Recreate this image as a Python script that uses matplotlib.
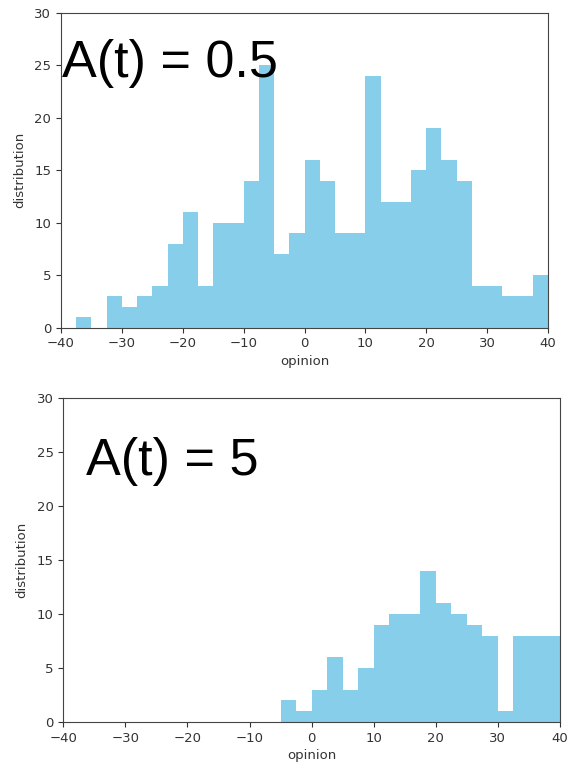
import matplotlib
matplotlib.use("Agg")
import matplotlib.pyplot as plt
import numpy as np

# bins of width 2.5 from -40 to 40
BIN_EDGES = np.arange(-40, 40.01, 2.5)

# counts per bin, A(t) = 0.5
COUNTS_LOW = [0, 1, 0, 3, 2, 3, 4, 8, 11, 4, 10, 10, 14, 25, 7, 9,
              16, 14, 9, 9, 24, 12, 12, 15, 19, 16, 14, 4, 4, 3, 3, 5]

# counts per bin, A(t) = 5
COUNTS_HIGH = [0, 0, 0, 0, 0, 0, 0, 0, 0, 0, 0, 0, 0, 0, 2, 1,
               3, 6, 3, 5, 9, 10, 10, 14, 11, 10, 9, 8, 1, 8, 8, 8]

LABELS = ["A(t) = 0.5", "A(t) = 5"]
BAR_COLOR = "skyblue"
SPINE = "#444444"

W, H = 568, 771
fig = plt.figure(figsize=(W / 100, H / 100), dpi=100)
fig.patch.set_facecolor("white")


def px_axes(left, right, top, bottom):
    return fig.add_axes([left / W, (H - bottom) / H, (right - left) / W, (bottom - top) / H])


panels = [
    (px_axes(61, 548, 12.7, 327.7), COUNTS_LOW, LABELS[0], (0.002, 0.796)),
    (px_axes(63.3, 560, 398.3, 722), COUNTS_HIGH, LABELS[1], (0.046, 0.763)),
]

for ax, counts, label, (tx, ty) in panels:
    ax.hist(BIN_EDGES[:-1], bins=BIN_EDGES, weights=counts, color=BAR_COLOR)
    ax.set_xlim(-40, 40)
    ax.set_ylim(0, 30)
    ax.set_xticks(np.arange(-40, 41, 10))
    ax.set_yticks(np.arange(0, 31, 5))
    ax.set_xlabel("opinion", fontsize=9.5, color="#333333", labelpad=3)
    ax.set_ylabel("distribution", fontsize=9.5, color="#333333", labelpad=6)
    ax.tick_params(labelsize=9.5, colors="#333333", length=3.5)
    for s in ax.spines.values():
        s.set_color(SPINE)
    ax.text(tx, ty, label, transform=ax.transAxes, ha="left", va="baseline",
            fontsize=37.5, family=["Liberation Sans", "DejaVu Sans"], color="black")

fig.savefig("out.png", dpi=100)
